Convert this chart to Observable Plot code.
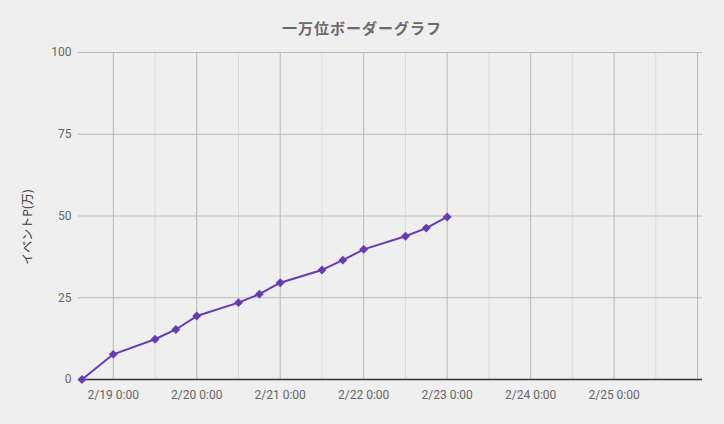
<!DOCTYPE html>
<html>
<head>
<meta charset="utf-8">
<script src="https://cdn.jsdelivr.net/npm/d3@7"></script>
<script src="https://cdn.jsdelivr.net/npm/@observablehq/plot@0.6"></script>
<style>
  html, body { margin: 0; padding: 0; background: #efefef; }
  #title { height: 40px; line-height: 40px; padding-top: 8px; box-sizing: border-box; text-align: center;
    font-family: "Noto Sans CJK JP", Roboto, sans-serif; font-weight: bold; font-size: 15px;
    letter-spacing: 1px; color: #6a6a6a; width: 724px; }
  #chart svg { display: block; }
</style>
</head>
<body>
<div id="title"></div>
<div id="chart"></div>
<script>
const chartTitle = "一万位ボーダーグラフ";
const yLabel = "イベントP(万)";
const times = [
  "2025-02-18T15:00Z", "2025-02-19T00:00Z", "2025-02-19T12:00Z", "2025-02-19T18:00Z",
  "2025-02-20T00:00Z", "2025-02-20T12:00Z", "2025-02-20T18:00Z", "2025-02-21T00:00Z",
  "2025-02-21T12:00Z", "2025-02-21T18:00Z", "2025-02-22T00:00Z", "2025-02-22T12:00Z",
  "2025-02-22T18:00Z", "2025-02-23T00:00Z"
];
const points = [0, 7.7, 12.3, 15.3, 19.4, 23.5, 26.1, 29.6, 33.5, 36.5, 39.8, 43.8, 46.3, 49.7];
const majorGrid = ["2025-02-19T00:00Z", "2025-02-20T00:00Z", "2025-02-21T00:00Z", "2025-02-22T00:00Z",
  "2025-02-23T00:00Z", "2025-02-24T00:00Z", "2025-02-25T00:00Z", "2025-02-26T00:00Z"];
const minorGrid = ["2025-02-19T12:00Z", "2025-02-20T12:00Z", "2025-02-21T12:00Z", "2025-02-22T12:00Z",
  "2025-02-23T12:00Z", "2025-02-24T12:00Z", "2025-02-25T12:00Z"];
const xTickLabels = ["2025-02-19T00:00Z", "2025-02-20T00:00Z", "2025-02-21T00:00Z", "2025-02-22T00:00Z",
  "2025-02-23T00:00Z", "2025-02-24T00:00Z", "2025-02-25T00:00Z"];
const yTicks = [0, 25, 50, 75, 100];
const xDomain = ["2025-02-18T14:00Z", "2025-02-26T01:25Z"];

document.getElementById("title").textContent = chartTitle;

const data = times.map((t, i) => ({time: new Date(t), value: points[i]}));
const fmt = d3.utcFormat("%-m/%-d %-H:%M");
const purple = "#673ab7";

const chart = Plot.plot({
  width: 724,
  height: 384,
  marginTop: 12,
  marginBottom: 45,
  marginLeft: 78,
  marginRight: 22,
  style: {background: "#efefef", fontFamily: "Roboto, sans-serif", fontSize: "12px", color: "#666"},
  x: {type: "utc", domain: xDomain.map(d => new Date(d))},
  y: {domain: [0, 100]},
  marks: [
    Plot.ruleX(minorGrid.map(d => new Date(d)), {stroke: "#dcdcdc", strokeWidth: 1, strokeOpacity: 1}),
    Plot.ruleX(majorGrid.map(d => new Date(d)), {stroke: "#b8b8b8", strokeWidth: 1, strokeOpacity: 1}),
    Plot.ruleY(yTicks.filter(v => v !== 0), {stroke: "#b8b8b8", strokeWidth: 1}),
    Plot.axisX(xTickLabels.map(d => new Date(d)), {tickSize: 0, tickPadding: 11, tickFormat: fmt, label: null, fill: "#666", fontSize: 12}),
    Plot.axisY(yTicks, {tickSize: 0, tickPadding: 7, label: null, fill: "#666", fontSize: 12}),
    Plot.text([yLabel], {frameAnchor: "left", dx: -50, dy: 11, rotate: -90, textAnchor: "middle",
      fill: "#333", fontSize: 12, fontFamily: "Noto Sans CJK JP, Roboto, sans-serif"}),
    Plot.ruleY([0], {stroke: "#333", strokeWidth: 1.5}),
    Plot.line(data, {x: "time", y: "value", stroke: purple, strokeWidth: 2}),
    Plot.dot(data, {x: "time", y: "value", symbol: "diamond2", r: 4, fill: purple, stroke: "none"})
  ]
});
document.getElementById("chart").appendChild(chart);
</script>
</body>
</html>
